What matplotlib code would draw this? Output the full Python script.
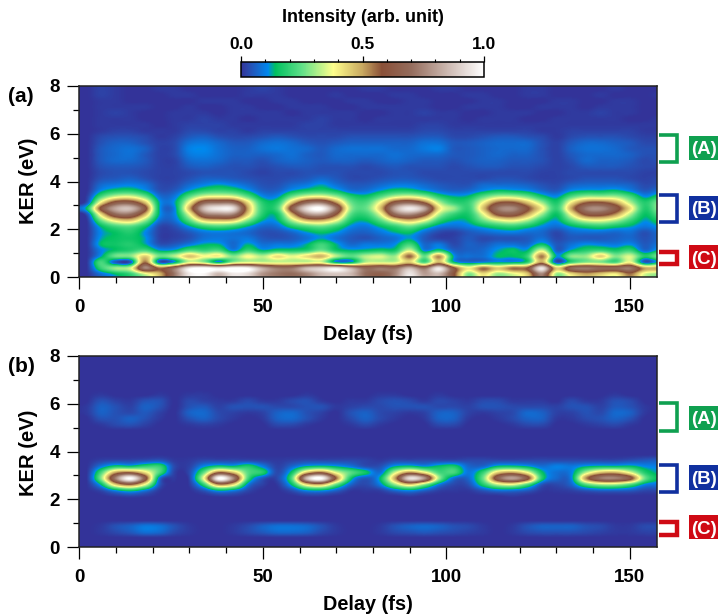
import numpy as np
import matplotlib
matplotlib.use("Agg")
import matplotlib.pyplot as plt
from matplotlib.colors import LinearSegmentedColormap
from matplotlib.lines import Line2D
from matplotlib.patches import Rectangle
from matplotlib.ticker import MultipleLocator

plt.rcParams["font.family"] = ["Liberation Sans", "DejaVu Sans"]
plt.rcParams["font.weight"] = "bold"

W, H = 718, 614

# intensity in percent, rows go from KER 0.125 up to 7.875 in 0.25 eV steps,
# columns are delay 2, 6, 10 ... 158 fs
panel_a = [
    [0, 8, 14, 20, 35, 48, 72, 95, 98, 85, 95, 92, 78, 72, 70, 75, 85, 88, 85, 70, 65, 75, 95, 80, 85, 60, 28, 42, 30, 35, 45, 75, 30, 42, 50, 45, 40, 55, 35, 30],
    [0, 20, 30, 35, 75, 55, 70, 95, 100, 95, 100, 98, 82, 72, 72, 85, 90, 95, 82, 68, 72, 70, 85, 70, 95, 60, 40, 55, 45, 55, 58, 95, 45, 68, 72, 68, 68, 72, 50, 50],
    [0, 22, 5, 5, 55, 5, 12, 35, 30, 12, 30, 35, 34, 34, 34, 34, 35, 12, 12, 32, 34, 34, 45, 22, 48, 15, 8, 10, 12, 12, 18, 50, 4, 20, 28, 28, 22, 38, 5, 15],
    [0, 12, 26, 28, 44, 26, 32, 46, 38, 40, 28, 38, 32, 42, 36, 42, 48, 32, 24, 32, 35, 30, 56, 25, 52, 12, 8, 8, 14, 14, 20, 54, 12, 28, 30, 44, 28, 35, 18, 28],
    [0, 10, 15, 18, 22, 12, 13, 22, 20, 22, 10, 20, 13, 16, 16, 18, 26, 16, 13, 14, 16, 16, 34, 10, 16, 6, 6, 7, 12, 15, 13, 34, 6, 13, 18, 20, 16, 20, 7, 14],
    [0, 14, 16, 18, 13, 4, 5, 9, 13, 13, 7, 13, 8, 9, 9, 13, 21, 13, 7, 9, 9, 11, 21, 7, 9, 3, 6, 5, 8, 8, 7, 15, 5, 8, 11, 10, 9, 11, 5, 9],
    [0, 12, 15, 16, 12, 2, 2, 4, 8, 9, 8, 9, 5, 4, 5, 8, 12, 8, 5, 4, 6, 8, 12, 5, 2, 2, 5, 3, 4, 4, 5, 8, 3, 5, 5, 5, 6, 7, 4, 7],
    [0, 11, 15, 18, 11, 2, 2, 5, 9, 10, 9, 7, 4, 4, 7, 12, 15, 12, 7, 6, 9, 13, 15, 8, 3, 2, 5, 7, 9, 10, 8, 7, 3, 7, 8, 8, 7, 8, 4, 8],
    [0, 14, 22, 24, 16, 3, 4, 12, 20, 23, 20, 13, 7, 8, 17, 23, 26, 20, 11, 9, 14, 20, 26, 18, 10, 8, 10, 14, 18, 20, 16, 11, 8, 13, 17, 19, 16, 13, 9, 12],
    [0, 26, 42, 46, 30, 8, 8, 24, 44, 48, 46, 28, 13, 13, 32, 48, 50, 38, 17, 14, 24, 40, 48, 38, 20, 13, 14, 26, 36, 40, 32, 18, 12, 25, 36, 38, 32, 21, 12, 17],
    [3, 42, 68, 70, 48, 12, 10, 36, 70, 76, 74, 44, 18, 16, 48, 76, 80, 58, 24, 20, 36, 68, 76, 62, 32, 20, 17, 36, 60, 64, 50, 30, 15, 38, 60, 62, 52, 32, 15, 24],
    [14, 60, 82, 86, 62, 12, 10, 48, 86, 96, 93, 50, 20, 22, 64, 93, 100, 72, 30, 25, 46, 82, 96, 82, 42, 30, 20, 46, 72, 76, 60, 40, 20, 50, 73, 76, 64, 42, 18, 30],
    [3, 40, 62, 64, 46, 12, 12, 38, 66, 70, 68, 42, 18, 18, 46, 68, 72, 52, 26, 22, 38, 62, 68, 56, 32, 20, 20, 38, 56, 58, 46, 30, 17, 40, 56, 58, 50, 32, 18, 28],
    [1, 22, 34, 36, 26, 8, 9, 24, 36, 38, 36, 24, 11, 11, 26, 36, 38, 30, 18, 15, 23, 33, 36, 30, 18, 13, 14, 24, 32, 32, 26, 16, 11, 23, 30, 30, 30, 22, 11, 17],
    [0, 11, 16, 17, 12, 4, 5, 12, 18, 20, 18, 12, 6, 6, 12, 16, 18, 14, 8, 8, 12, 16, 16, 12, 8, 6, 7, 11, 14, 13, 11, 7, 5, 11, 13, 13, 14, 10, 5, 8],
    [0, 7, 9, 10, 8, 3, 3, 7, 10, 12, 10, 7, 4, 4, 7, 9, 12, 8, 5, 5, 7, 9, 9, 7, 5, 4, 4, 7, 7, 7, 6, 4, 3, 6, 7, 7, 7, 6, 3, 4],
    [0, 4, 5, 6, 4, 2, 2, 4, 6, 6, 5, 4, 3, 3, 4, 5, 7, 5, 3, 3, 4, 5, 5, 4, 3, 3, 3, 3, 4, 4, 3, 2, 2, 3, 4, 4, 4, 3, 2, 3],
    [0, 3, 4, 4, 3, 2, 2, 3, 4, 4, 4, 3, 2, 3, 3, 4, 4, 4, 3, 3, 3, 4, 4, 3, 3, 3, 3, 3, 3, 3, 3, 2, 2, 3, 3, 3, 3, 3, 2, 2],
    [0, 4, 5, 5, 4, 2, 2, 5, 6, 5, 4, 4, 3, 4, 5, 5, 4, 4, 4, 3, 4, 5, 4, 4, 4, 3, 4, 5, 5, 4, 4, 3, 2, 3, 5, 5, 5, 4, 3, 3],
    [0, 5, 7, 7, 5, 2, 2, 7, 8, 7, 5, 5, 4, 6, 7, 6, 5, 6, 6, 5, 6, 7, 6, 5, 5, 4, 5, 6, 6, 5, 5, 4, 2, 4, 7, 6, 6, 5, 3, 4],
    [0, 5, 7, 8, 5, 2, 3, 9, 10, 8, 6, 6, 6, 7, 8, 6, 5, 7, 7, 7, 7, 8, 7, 7, 7, 5, 5, 6, 7, 6, 6, 4, 2, 5, 7, 7, 7, 6, 4, 4],
    [0, 5, 7, 8, 6, 2, 3, 10, 11, 8, 6, 6, 8, 9, 8, 7, 5, 7, 8, 8, 8, 7, 7, 9, 10, 5, 5, 6, 7, 7, 7, 4, 2, 6, 8, 8, 7, 5, 4, 4],
    [0, 4, 6, 6, 4, 2, 3, 8, 9, 7, 5, 5, 7, 8, 7, 5, 4, 5, 6, 6, 6, 6, 6, 8, 8, 5, 5, 6, 7, 7, 7, 4, 2, 5, 7, 7, 6, 5, 3, 3],
    [0, 3, 4, 4, 3, 1, 2, 5, 6, 4, 3, 3, 4, 5, 4, 3, 3, 3, 4, 4, 4, 4, 4, 5, 5, 3, 3, 4, 5, 5, 4, 3, 1, 3, 4, 4, 4, 3, 2, 2],
    [0, 1, 2, 2, 1, 1, 1, 3, 3, 2, 2, 1, 2, 2, 2, 2, 2, 2, 2, 2, 2, 2, 2, 3, 3, 2, 2, 2, 2, 2, 2, 1, 1, 2, 2, 2, 2, 2, 1, 1],
    [0, 1, 1, 1, 1, 0, 1, 2, 2, 2, 1, 1, 1, 1, 1, 2, 2, 1, 1, 1, 1, 1, 1, 2, 2, 1, 1, 1, 1, 1, 1, 1, 1, 1, 1, 1, 1, 1, 1, 1],
    [0, 1, 1, 1, 0, 0, 1, 1, 2, 1, 1, 0, 1, 1, 1, 1, 2, 1, 1, 0, 1, 1, 1, 1, 1, 1, 0, 1, 1, 1, 0, 0, 1, 1, 1, 1, 1, 0, 0, 1],
    [0, 1, 2, 1, 0, 0, 1, 1, 1, 0, 1, 1, 1, 1, 0, 1, 1, 1, 1, 0, 0, 1, 1, 2, 1, 1, 0, 0, 1, 1, 1, 0, 0, 1, 1, 2, 1, 1, 0, 0],
    [0, 1, 1, 1, 1, 0, 0, 1, 0, 0, 1, 1, 0, 0, 1, 1, 1, 0, 0, 1, 1, 1, 1, 1, 0, 0, 1, 1, 1, 0, 0, 1, 1, 1, 0, 1, 1, 1, 0, 0],
    [0, 1, 1, 0, 0, 0, 0, 0, 1, 1, 1, 0, 0, 1, 1, 0, 0, 0, 1, 1, 0, 0, 1, 1, 0, 0, 0, 1, 1, 0, 0, 0, 1, 1, 0, 0, 1, 1, 0, 0],
    [0, 2, 1, 0, 0, 0, 1, 1, 0, 0, 0, 1, 1, 1, 0, 0, 0, 1, 0, 0, 0, 1, 1, 0, 0, 0, 1, 1, 0, 0, 1, 1, 0, 0, 0, 1, 0, 0, 0, 1],
    [0, 2, 1, 0, 0, 1, 1, 0, 0, 0, 0, 1, 2, 1, 0, 0, 0, 0, 0, 1, 1, 0, 0, 0, 1, 1, 0, 0, 0, 0, 1, 1, 0, 0, 0, 0, 1, 0, 0, 0],
]

empty_row = [0] * 40

panel_b = [
    empty_row,
    empty_row,
    [0, 1, 3, 5, 8, 7, 3, 1, 0, 0, 1, 3, 5, 7, 7, 6, 3, 1, 0, 0, 1, 3, 4, 5, 4, 3, 2, 1, 0, 1, 3, 4, 4, 4, 3, 2, 1, 1, 2, 2],
    [0, 1, 4, 6, 9, 8, 4, 1, 0, 0, 1, 3, 6, 8, 8, 7, 4, 1, 0, 0, 1, 4, 6, 7, 6, 4, 3, 1, 0, 1, 4, 6, 6, 6, 4, 3, 1, 1, 3, 3],
    empty_row,
    empty_row,
    empty_row,
    empty_row,
    [0, 0, 1, 2, 1, 0, 0, 0, 0, 1, 1, 0, 0, 0, 0, 1, 1, 0, 0, 0, 0, 0, 1, 0, 0, 0, 0, 0, 0, 1, 0, 0, 0, 0, 0, 0, 0, 0, 0, 0],
    [0, 3, 12, 17, 10, 1, 0, 0, 5, 14, 11, 3, 0, 0, 4, 12, 13, 7, 1, 1, 2, 8, 12, 7, 2, 1, 1, 5, 9, 9, 6, 1, 1, 2, 5, 7, 7, 6, 3, 3],
    [0, 14, 46, 58, 38, 5, 0, 1, 20, 54, 44, 10, 2, 1, 15, 44, 50, 26, 7, 3, 10, 30, 46, 30, 10, 3, 4, 18, 34, 38, 24, 5, 3, 7, 24, 32, 32, 24, 11, 9],
    [0, 28, 74, 100, 64, 8, 1, 2, 38, 100, 76, 22, 5, 3, 24, 86, 100, 56, 16, 5, 14, 50, 93, 78, 30, 8, 7, 26, 66, 80, 62, 18, 7, 10, 52, 72, 74, 62, 26, 14],
    [0, 22, 50, 56, 42, 22, 2, 3, 25, 56, 46, 24, 18, 3, 16, 46, 56, 36, 24, 16, 8, 34, 52, 40, 22, 22, 9, 20, 44, 50, 38, 15, 8, 10, 32, 46, 48, 36, 18, 12],
    [0, 9, 17, 16, 20, 20, 3, 2, 11, 17, 15, 18, 10, 2, 7, 14, 16, 13, 9, 4, 4, 13, 16, 12, 15, 17, 7, 7, 15, 16, 13, 8, 10, 9, 13, 15, 15, 15, 11, 10],
    [0, 2, 3, 3, 4, 5, 1, 1, 3, 3, 3, 3, 2, 1, 2, 3, 3, 3, 3, 2, 1, 3, 3, 3, 3, 3, 3, 3, 3, 3, 3, 3, 3, 3, 3, 3, 3, 4, 5, 6],
    empty_row,
    empty_row,
    empty_row,
    empty_row,
    empty_row,
    [0, 1, 3, 4, 2, 0, 0, 1, 2, 1, 0, 0, 0, 3, 3, 1, 0, 0, 1, 3, 1, 0, 0, 0, 3, 3, 0, 0, 0, 1, 3, 3, 0, 0, 1, 2, 3, 1, 0, 0],
    [0, 4, 4, 6, 4, 1, 0, 4, 6, 3, 1, 0, 1, 6, 7, 4, 1, 0, 3, 6, 3, 1, 0, 1, 6, 6, 1, 0, 1, 3, 6, 6, 1, 1, 3, 4, 6, 4, 0, 0],
    [1, 6, 4, 3, 5, 2, 0, 6, 7, 3, 2, 1, 2, 6, 7, 4, 2, 0, 4, 6, 3, 2, 1, 2, 6, 6, 2, 1, 2, 3, 7, 6, 2, 2, 4, 3, 7, 6, 1, 0],
    [1, 6, 4, 2, 6, 4, 0, 4, 5, 2, 4, 4, 4, 3, 3, 4, 4, 1, 2, 3, 3, 4, 4, 4, 3, 3, 2, 4, 4, 3, 3, 3, 2, 4, 4, 2, 5, 4, 1, 0],
    [0, 4, 2, 1, 4, 4, 0, 3, 2, 1, 1, 3, 1, 1, 3, 4, 1, 0, 1, 1, 3, 4, 3, 1, 3, 2, 1, 3, 3, 1, 1, 1, 0, 3, 1, 1, 4, 3, 0, 0],
    [0, 1, 0, 0, 0, 1, 0, 1, 1, 0, 0, 0, 0, 0, 0, 1, 0, 0, 0, 0, 1, 1, 0, 0, 1, 0, 0, 0, 0, 0, 0, 0, 0, 0, 0, 0, 1, 0, 0, 0],
    empty_row,
    empty_row,
    empty_row,
    empty_row,
    empty_row,
    empty_row,
]

cmap_stops = [0.0, 0.03, 0.11, 0.14, 0.25, 0.38, 0.5, 0.58, 0.7, 0.85, 1.0]
cmap_colors = ["#333399", "#2a4aae", "#0088ee", "#00c060", "#60e088", "#ffff8c",
               "#c8a860", "#8a5038", "#946c5c", "#ccb8b0", "#ffffff"]

GREEN, BLUE, RED = "#0fa050", "#10309f", "#cf0a14"


def to_fig(x, y):
    return x / W, 1 - y / H


def add_axes_px(fig, left, top, right, bottom):
    x0, y0 = to_fig(left, bottom)
    x1, y1 = to_fig(right, top)
    return fig.add_axes([x0, y0, x1 - x0, y1 - y0])


def bracket(fig, color, top, bottom, lw=2.6):
    xs = [659, 677, 677, 659]
    ys = [top, top, bottom, bottom]
    pts = [to_fig(x, y) for x, y in zip(xs, ys)]
    fig.add_artist(Line2D([p[0] for p in pts], [p[1] for p in pts], color=color,
                          lw=lw, solid_joinstyle="miter", solid_capstyle="butt"))


def tag(fig, text, color, top, bottom):
    x0, y0 = to_fig(689, bottom)
    x1, y1 = to_fig(720, top)
    fig.add_artist(Rectangle((x0, y0), x1 - x0, y1 - y0, transform=fig.transFigure,
                             color=color, lw=0))
    fig.text(x0 + 2 / W, (y0 + y1) / 2, text, color="white", fontsize=13.5,
             ha="left", va="center_baseline")


def panel(ax, rows, cmap):
    data = np.array(rows) / 100.0
    # catrom passes through the grid values, agg's bicubic smooths them away
    im = ax.imshow(data, origin="lower", aspect="auto", extent=[0, 160, 0, 8],
                   cmap=cmap, vmin=0, vmax=1, interpolation="catrom")
    ax.set_xlim(0, 157.3)
    ax.set_ylim(0, 8)
    ax.xaxis.set_major_locator(MultipleLocator(50))
    ax.xaxis.set_minor_locator(MultipleLocator(10))
    ax.yaxis.set_major_locator(MultipleLocator(2))
    ax.yaxis.set_minor_locator(MultipleLocator(1))
    ax.tick_params(which="major", length=8.5, width=0.9, labelsize=13.5, pad=7)
    ax.tick_params(which="minor", length=4.3, width=0.9)
    ax.tick_params(axis="y", which="major", pad=5.5)
    for s in ax.spines.values():
        s.set_linewidth(1.1)
        s.set_color("#222222")
    return im


def main():
    fig = plt.figure(figsize=(W / 100, H / 100), dpi=100)
    cmap = LinearSegmentedColormap.from_list("ker", list(zip(cmap_stops, cmap_colors)), N=512)

    ax_a = add_axes_px(fig, 79.4, 86, 656.5, 277)
    ax_b = add_axes_px(fig, 79.4, 356, 656.5, 547)
    im = panel(ax_a, panel_a, cmap)
    panel(ax_b, panel_b, cmap)

    # colour bar on top
    cax = add_axes_px(fig, 241, 62, 484, 77)
    cb = fig.colorbar(im, cax=cax, orientation="horizontal")
    cb.set_ticks([0.0, 0.5, 1.0], labels=["0.0", "0.5", "1.0"])
    cax.xaxis.set_ticks_position("top")
    cax.xaxis.set_minor_locator(MultipleLocator(0.1))
    cax.tick_params(which="major", length=4, width=0.9, labelsize=12.5, pad=3)
    cax.tick_params(which="minor", length=2.5, width=0.8)
    cb.outline.set_linewidth(1.1)

    fig.text(*to_fig(363, 18), "Intensity (arb. unit)", fontsize=13, ha="center", va="center")

    for ax_y, label_y, name, name_y in [(181, 334, "(a)", 96), (453, 604, "(b)", 366)]:
        fig.text(*to_fig(28, ax_y), "KER (eV)", fontsize=14.5, rotation=90, ha="center", va="center")
        fig.text(*to_fig(368, label_y), "Delay (fs)", fontsize=14.3, ha="center", va="center")
        fig.text(*to_fig(8, name_y), name, fontsize=15, ha="left", va="center")

    bracket(fig, GREEN, 134.5, 161.5)
    bracket(fig, BLUE, 195, 221.5)
    bracket(fig, RED, 252, 263.5, lw=3.2)
    bracket(fig, GREEN, 403, 430.5)
    bracket(fig, BLUE, 465, 492)
    bracket(fig, RED, 522, 534.5, lw=3.2)

    tag(fig, "(A)", GREEN, 136, 160)
    tag(fig, "(B)", BLUE, 196, 220)
    tag(fig, "(C)", RED, 245, 269)
    tag(fig, "(A)", GREEN, 406, 430)
    tag(fig, "(B)", BLUE, 465, 490)
    tag(fig, "(C)", RED, 515, 539)

    fig.savefig("out.png", dpi=100)


if __name__ == "__main__":
    main()
